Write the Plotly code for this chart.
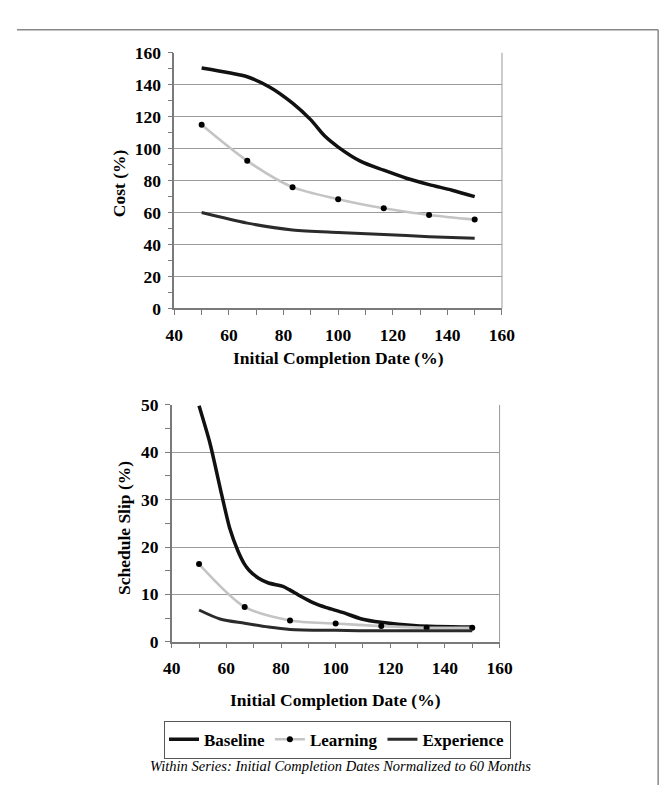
import plotly.graph_objects as go

# ---------------- data ----------------
series_x = [50, 66.7, 83.3, 100, 116.7, 133.3, 150]

cost_base_x = [50, 60, 66.7, 75, 83.3, 90, 95, 100, 108.3, 116.7, 125, 133.3, 141.7, 150]
cost_base_y = [150.5, 147.5, 145, 138.5, 128.5, 118, 108, 101, 92, 86.5, 81.5, 77.5, 74, 70]
cost_learn = [115, 92.4, 75.9, 68.4, 62.7, 58.5, 55.6]
cost_exp = [60, 53.4, 49.1, 47.5, 46.3, 44.9, 43.9]

slip_base_x = [50, 54, 58.3, 61.2, 64.2, 66.5, 68.3, 71.8, 75.4, 80.7, 83, 87.2,
               91.9, 96.6, 102.5, 109.5, 116.6, 129.6, 150]
slip_base_y = [49.8, 41.9, 31, 24, 19.2, 16.5, 15.1, 13.4, 12.4, 11.7, 11, 9.6,
               8.2, 7.2, 6.2, 4.8, 4.1, 3.4, 3.1]
slip_learn = [16.4, 7.35, 4.5, 3.85, 3.3, 2.95, 2.95]
slip_exp_x = [50, 57.7, 66.7, 75.4, 83.3, 100, 116.7, 133.3, 150]
slip_exp_y = [6.7, 4.8, 3.9, 3.1, 2.6, 2.4, 2.3, 2.3, 2.3]

series_names = ["Baseline", "Learning", "Experience"]
footer = "Within Series: Initial Completion Dates Normalized to 60 Months"

# ---------------- styling ----------------
W, H = 668, 787
SERIF = "Liberation Serif, Times New Roman, serif"
BASE_C = "#111111"
LEARN_C = "#c4c4c4"
EXP_C = "#2b2b2b"
GRID_C = "#9a9a9a"
AXIS_C = "#7a7a7a"
FS = 17.5


def px_x(v):
    return v / W


def px_y(v):
    return 1 - v / H


fig = go.Figure()

# top chart
fig.add_trace(go.Scatter(x=cost_base_x, y=cost_base_y, mode="lines", name=series_names[0],
                         line=dict(color=BASE_C, width=3.5, shape="spline", smoothing=0.8),
                         xaxis="x", yaxis="y", legendgroup="b"))
fig.add_trace(go.Scatter(x=series_x, y=cost_learn, mode="lines+markers", name=series_names[1],
                         line=dict(color=LEARN_C, width=2.6, shape="spline", smoothing=0.8),
                         marker=dict(color="#000000", size=6),
                         xaxis="x", yaxis="y", legendgroup="l"))
fig.add_trace(go.Scatter(x=series_x, y=cost_exp, mode="lines", name=series_names[2],
                         line=dict(color=EXP_C, width=3, shape="spline", smoothing=0.8),
                         xaxis="x", yaxis="y", legendgroup="e"))

# bottom chart
fig.add_trace(go.Scatter(x=slip_base_x, y=slip_base_y, mode="lines", name=series_names[0],
                         line=dict(color=BASE_C, width=3.5, shape="spline", smoothing=0.6),
                         xaxis="x2", yaxis="y2", legendgroup="b", showlegend=False))
fig.add_trace(go.Scatter(x=series_x, y=slip_learn, mode="lines+markers", name=series_names[1],
                         line=dict(color=LEARN_C, width=2.6, shape="spline", smoothing=0.8),
                         marker=dict(color="#000000", size=6),
                         xaxis="x2", yaxis="y2", legendgroup="l", showlegend=False))
fig.add_trace(go.Scatter(x=slip_exp_x, y=slip_exp_y, mode="lines", name=series_names[2],
                         line=dict(color=EXP_C, width=3, shape="spline", smoothing=0.8),
                         xaxis="x2", yaxis="y2", legendgroup="e", showlegend=False))

tickfont = dict(family=SERIF, size=FS, color="#000000", weight="bold")

def xaxis_cfg(dom, anchor):
    return dict(domain=dom, anchor=anchor, range=[40, 160], tick0=40, dtick=20,
                ticks="outside", ticklen=5, tickcolor=AXIS_C, tickwidth=1,
                minor=dict(dtick=10, ticks="outside", ticklen=5, tickcolor=AXIS_C, tickwidth=1),
                showline=True, linecolor=AXIS_C, linewidth=1.5, mirror=False,
                showgrid=False, zeroline=False, tickfont=tickfont, ticklabelstandoff=5,
                fixedrange=True)

def yaxis_cfg(dom, anchor, rng, dt, mdt):
    return dict(domain=dom, anchor=anchor, range=rng, dtick=dt,
                ticks="outside", ticklen=5, tickcolor=AXIS_C, tickwidth=1,
                minor=dict(dtick=mdt, ticks="outside", ticklen=5, tickcolor=AXIS_C, tickwidth=1),
                showline=True, linecolor=AXIS_C, linewidth=1.5,
                showgrid=True, gridcolor=GRID_C, gridwidth=1, zeroline=False,
                tickfont=tickfont, ticklabelstandoff=3, fixedrange=True)

top_xdom = [px_x(162.7), px_x(501.5)]
top_ydom = [px_y(298), px_y(35.7)]
bot_xdom = [px_x(160), px_x(499)]
bot_ydom = [px_y(640), px_y(397)]

fig.update_layout(
    width=W, height=H, margin=dict(l=0, r=0, t=0, b=0),
    paper_bgcolor="white", plot_bgcolor="white",
    xaxis=xaxis_cfg(top_xdom, "y"),
    yaxis=yaxis_cfg(top_ydom, "x", [0, 160], 20, 10),
    xaxis2=xaxis_cfg(bot_xdom, "y2"),
    yaxis2=yaxis_cfg(bot_ydom, "x2", [0, 50], 10, 5),
    showlegend=True,
    legend=dict(orientation="h", x=px_x(152), y=px_y(721), xanchor="left", yanchor="top",
                bordercolor="#555555", borderwidth=1, bgcolor="white",
                font=dict(family=SERIF, size=17, color="#000000", weight="bold"),
                itemwidth=30, tracegroupgap=0),
)

# plot area right borders
for xd, yd in [(top_xdom, top_ydom), (bot_xdom, bot_ydom)]:
    fig.add_shape(type="line", xref="paper", yref="paper", x0=xd[1], x1=xd[1], y0=yd[0], y1=yd[1],
                  line=dict(color=GRID_C, width=1))

# page frame (top and right edges)
fig.add_shape(type="line", xref="paper", yref="paper", x0=0, x1=px_x(663), y0=px_y(12), y1=px_y(12),
              line=dict(color="#888888", width=1.5))
fig.add_shape(type="line", xref="paper", yref="paper", x0=px_x(663), x1=px_x(663), y0=px_y(12), y1=0,
              line=dict(color="#888888", width=1.5))

titlefont = dict(family=SERIF, size=FS, color="#000000")
fig.add_annotation(text="<b>Initial Completion Date (%)</b>", xref="paper", yref="paper",
                   x=px_x(332), y=px_y(349), showarrow=False, font=titlefont,
                   xanchor="center", yanchor="middle")
fig.add_annotation(text="<b>Cost (%)</b>", xref="paper", yref="paper",
                   x=px_x(105), y=px_y(170), showarrow=False, font=titlefont, textangle=-90,
                   xanchor="center", yanchor="middle")
fig.add_annotation(text="<b>Initial Completion Date (%)</b>", xref="paper", yref="paper",
                   x=px_x(329), y=px_y(700), showarrow=False, font=titlefont,
                   xanchor="center", yanchor="middle")
fig.add_annotation(text="<b>Schedule Slip (%)</b>", xref="paper", yref="paper",
                   x=px_x(110), y=px_y(523), showarrow=False, font=titlefont, textangle=-90,
                   xanchor="center", yanchor="middle")
fig.add_annotation(text="<i>" + footer + "</i>", xref="paper", yref="paper",
                   x=px_x(335), y=px_y(767), showarrow=False,
                   font=dict(family=SERIF, size=14.5, color="#000000"),
                   xanchor="center", yanchor="middle")

fig.write_html("out.html")
